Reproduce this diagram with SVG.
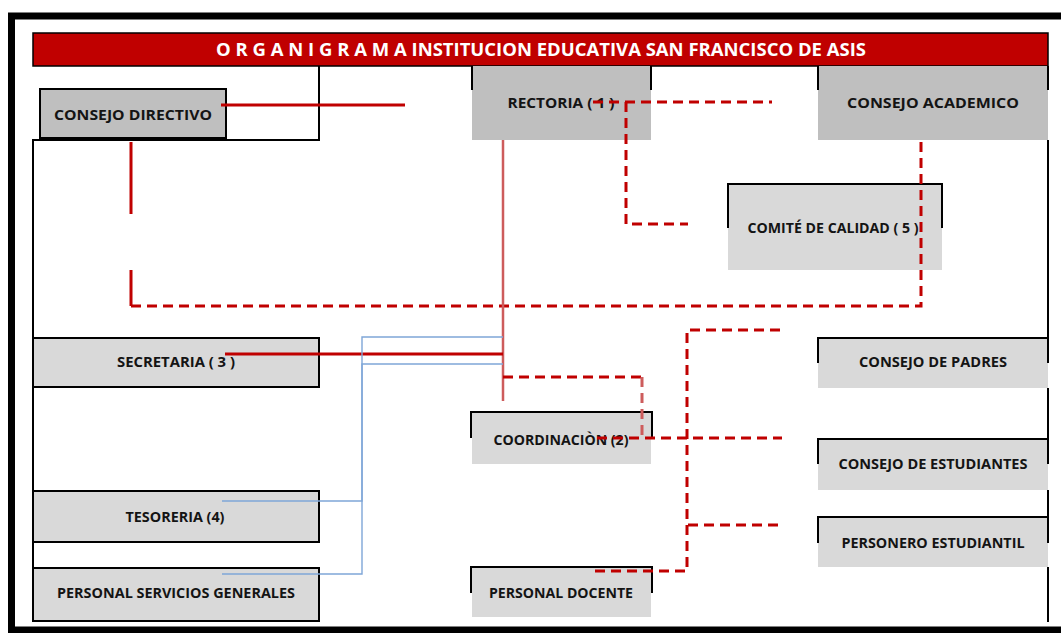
<svg xmlns="http://www.w3.org/2000/svg" width="1061" height="633" viewBox="0 0 1061 633">
<style>
.lbl{font-family:"Open Sans","Liberation Sans",Arial,sans-serif;font-weight:bold;font-size:14px;fill:#141414;text-anchor:middle}
.g1{fill:#BFBFBF}
.g2{fill:#D9D9D9}
.blk{stroke:#000;stroke-width:2;fill:none}
.rs{stroke:#C00000;stroke-width:3;fill:none}
.rd{stroke:#C00000;stroke-width:3;fill:none;stroke-dasharray:10 6}
.rp{stroke:#CD5C5C;stroke-width:2.5;fill:none}
.bl{stroke:#7FA6D8;stroke-width:1.4;fill:none}
</style>
<rect width="1061" height="633" fill="#fff"/>
<rect x="11.5" y="16" width="1060" height="614" fill="none" stroke="#000" stroke-width="7"/>
<g id="title">
<rect x="33" y="33" width="1015" height="33" fill="#C00000" stroke="#000" stroke-width="1.5"/>
<text x="541" y="56" textLength="650" lengthAdjust="spacingAndGlyphs" style="font-family:'Open Sans','Liberation Sans',Arial,sans-serif;font-weight:bold;font-size:17px;fill:#fff;text-anchor:middle">O R G A N I G R A M A INSTITUCION EDUCATIVA SAN FRANCISCO DE ASIS</text>
</g>
<g id="frame-left" class="blk">
<path d="M319 66V140H33V621"/>
</g>
<g id="consejo-directivo">
<rect x="40" y="89" width="186" height="49" class="g1" stroke="#000" stroke-width="2"/>
<text x="133" y="120" class="lbl" textLength="158" lengthAdjust="spacingAndGlyphs">CONSEJO DIRECTIVO</text>
</g>
<g id="rectoria">
<rect x="472" y="66" width="179" height="74" class="g1"/>
<path class="blk" d="M472 66V90M651 66V90"/>
<text x="561" y="108" class="lbl" textLength="107" lengthAdjust="spacingAndGlyphs">RECTORIA ( 1 )</text>
</g>
<g id="consejo-academico">
<rect x="818" y="66" width="230" height="74" class="g1"/>
<path class="blk" d="M818 66V90M1048 66V90"/>
<text x="933" y="108" class="lbl" textLength="172" lengthAdjust="spacingAndGlyphs">CONSEJO ACADEMICO</text>
</g>
<g id="comite-calidad">
<rect x="728" y="184" width="214" height="86" class="g2"/>
<path class="blk" d="M728 228V184H942V228"/>
<text x="833" y="233" class="lbl" textLength="171" lengthAdjust="spacingAndGlyphs">COMITÉ DE CALIDAD ( 5 )</text>
</g>
<g id="secretaria">
<rect x="33" y="338" width="286" height="49" class="g2" stroke="#000" stroke-width="2"/>
<text x="176" y="367" class="lbl" textLength="118" lengthAdjust="spacingAndGlyphs">SECRETARIA ( 3 )</text>
</g>
<g id="tesoreria">
<rect x="33" y="491" width="286" height="51" class="g2" stroke="#000" stroke-width="2"/>
<text x="175" y="522" class="lbl" textLength="99" lengthAdjust="spacingAndGlyphs">TESORERIA (4)</text>
</g>
<g id="personal-servicios-generales">
<rect x="33" y="568" width="286" height="53" class="g2" stroke="#000" stroke-width="2"/>
<text x="176" y="598" class="lbl" textLength="238" lengthAdjust="spacingAndGlyphs">PERSONAL SERVICIOS GENERALES</text>
</g>
<g id="coordinacion">
<rect x="472" y="412" width="179" height="52" class="g2"/>
<path class="blk" d="M471 438V412H652V438"/>
<text x="561" y="445" class="lbl" textLength="135" lengthAdjust="spacingAndGlyphs">COORDINACIÒN (2)</text>
</g>
<g id="personal-docente">
<rect x="472" y="567" width="179" height="50" class="g2"/>
<path class="blk" d="M471 593V567H652V593"/>
<text x="561" y="598" class="lbl" textLength="144" lengthAdjust="spacingAndGlyphs">PERSONAL DOCENTE</text>
</g>
<g id="consejo-padres">
<rect x="818" y="338" width="230" height="50" class="g2"/>
<path class="blk" d="M818 363V338H1048M1048 140V363"/>
<text x="933" y="367" class="lbl" textLength="148" lengthAdjust="spacingAndGlyphs">CONSEJO DE PADRES</text>
</g>
<g id="consejo-estudiantes">
<rect x="818" y="439" width="230" height="51" class="g2"/>
<path class="blk" d="M818 464V439H1048M1048 388V464"/>
<text x="933" y="469" class="lbl" textLength="189" lengthAdjust="spacingAndGlyphs">CONSEJO DE ESTUDIANTES</text>
</g>
<g id="personero-estudiantil">
<rect x="818" y="517" width="230" height="50" class="g2"/>
<path class="blk" d="M818 543V517H1048M1048 490V543M1048 567V622"/>
<text x="933" y="548" class="lbl" textLength="183" lengthAdjust="spacingAndGlyphs">PERSONERO ESTUDIANTIL</text>
</g>
<g id="connectors">
<path class="rs" d="M221 105H405"/>
<path class="rs" d="M131 142V214M131 270V306"/>
<path class="rd" d="M131 306H921V140"/>
<path class="rd" d="M593 102H772"/>
<path class="rd" d="M626 102V224H688"/>
<path class="rp" d="M503 140V401"/>
<path class="rs" d="M225 354H503"/>
<path class="bl" d="M222 501H362V337H503"/>
<path class="bl" d="M222 574H362V364H503"/>
<path class="rd" d="M503 377H642"/>
<path class="rd" style="stroke:#CD5C5C" d="M642 377V438"/>
<path class="rd" d="M597 438H782"/>
<path class="rd" d="M595 571H687V330H782"/>
<path class="rd" d="M688 525H783"/>
</g>
</svg>
